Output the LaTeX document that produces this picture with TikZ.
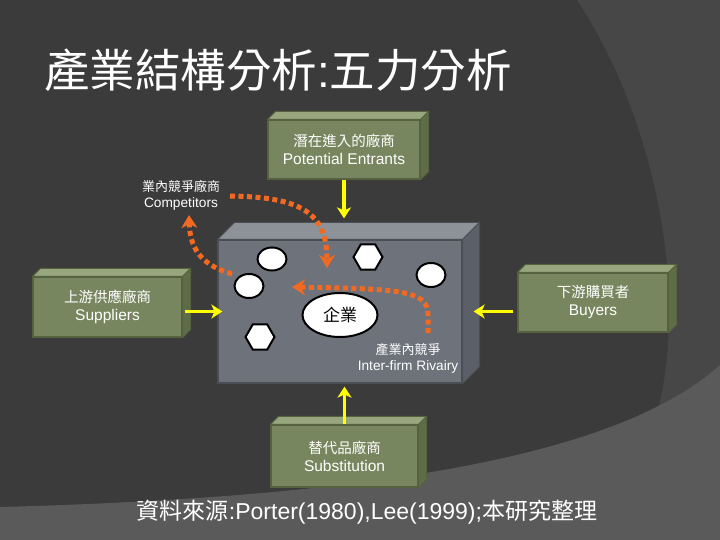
\documentclass[tikz,border=0pt]{standalone}
\usepackage{fontspec}
\setmainfont{Liberation Sans}
\newfontfamily\cjk{Noto Sans CJK TC}
\usetikzlibrary{arrows.meta,shapes.geometric}
\definecolor{bgdark}{HTML}{3B3B3B}
\definecolor{bgmid}{HTML}{474747}
\definecolor{bgband}{HTML}{5A5A5A}
\definecolor{gfront}{HTML}{77865E}
\definecolor{gtop}{HTML}{98A67E}
\definecolor{gside}{HTML}{5E6C48}
\definecolor{gline}{HTML}{56623F}
\definecolor{cfront}{HTML}{6D727B}
\definecolor{ctop}{HTML}{8D9299}
\definecolor{cside}{HTML}{5B6068}
\definecolor{cline}{HTML}{4A4E55}
\definecolor{orng}{HTML}{F26A21}
\definecolor{ylw}{HTML}{FFFF00}
\newcommand\myfaces[5]{%
  \filldraw[fill=#4,draw=#2,line width=1pt,line join=round]
    (#1.north west) -- ++(#3,-#3) -- ([shift={(#3pt,#3pt)}]#1.north east) -- (#1.north east) -- cycle;
  \filldraw[fill=#5,draw=#2,line width=1pt,line join=round]
    (#1.north east) -- ++(#3,-#3) -- ([shift={(#3pt,#3pt)}]#1.south east) -- (#1.south east) -- cycle;}
\begin{document}
\begin{tikzpicture}[x=1pt,y=-1pt,
  gbox/.style={draw=gline,fill=gfront,line width=1.2pt,inner sep=0pt,text=white,align=center,
    font=\fontsize{15.5}{18}\selectfont},
  smalllab/.style={text=white,align=center,font=\fontsize{13.7}{16}\selectfont},
  whiteoval/.style={ellipse,draw=black,fill=white,line width=2pt,inner sep=0pt},
  whitehex/.style={regular polygon,regular polygon sides=6,draw=black,fill=white,line width=2pt,inner sep=0pt,minimum size=29pt},
  yarrow/.style={draw=ylw,line width=3.5pt,-{Stealth[length=11pt,width=14pt,inset=3pt]}},
  oarrow/.style={draw=orng,line width=5pt,dash pattern=on 5pt off 3.5pt,-{Stealth[length=13pt,width=16pt,inset=4pt]}}
]
\useasboundingbox (0,0) rectangle (720,540);
% background
\fill[bgdark] (0,0) rectangle (720,540);
\fill[bgmid] (577,0) .. controls (650,110) and (690,280) .. (658,410) -- (720,410) -- (720,0) -- cycle;
\fill[bgband] (0,507) .. controls (380,497) and (620,455) .. (720,365) -- (720,540) -- (0,540) -- cycle;

% title
\node[anchor=west,text=white,inner sep=0pt,font=\fontsize{45.5}{50}\selectfont] (title) at (44,70)
  {{\cjk 產業結構分析}:{\cjk 五力分析}};

% center box
\node[draw=cline,fill=cfront,line width=1.2pt,minimum width=244pt,minimum height=143pt,inner sep=0pt] (cb) at (340,311.5) {};
\myfaces{cb}{cline}{17}{ctop}{cside}

% green boxes
\node[gbox,minimum width=152pt,minimum height=59pt] (pe) at (344,149.5)
  {{\cjk\fontsize{14.5}{18}\selectfont 潛在進入的廠商}\\Potential Entrants};
\myfaces{pe}{gline}{8}{gtop}{gside}
\node[gbox,minimum width=149pt,minimum height=60pt] (sp) at (107.5,307)
  {{\cjk\fontsize{14.5}{18}\selectfont 上游供應廠商}\\Suppliers};
\myfaces{sp}{gline}{8}{gtop}{gside}
\node[gbox,minimum width=150pt,minimum height=59pt] (by) at (593,302.5)
  {{\cjk\fontsize{14.5}{18}\selectfont 下游購買者}\\Buyers};
\myfaces{by}{gline}{8}{gtop}{gside}
\node[gbox,minimum width=147pt,minimum height=62pt] (sb) at (344.5,456)
  {{\cjk\fontsize{14.5}{18}\selectfont 替代品廠商}\\Substitution};
\myfaces{sb}{gline}{8}{gtop}{gside}

% firms inside
\node[whiteoval,minimum width=29pt,minimum height=23pt] (o1) at (272,259) {};
\node[whiteoval,minimum width=29pt,minimum height=24pt] (o2) at (249,286) {};
\node[whiteoval,minimum width=29pt,minimum height=24pt] (o3) at (431,275) {};
\node[whitehex] (h1) at (368,257) {};
\node[whitehex] (h2) at (260,337) {};
\node[whiteoval,minimum width=75pt,minimum height=44pt,font=\cjk\fontsize{17}{20}\selectfont] (firm) at (340,315) {企業};

% labels
\node[smalllab] (comp) at (181,195) {{\cjk\fontsize{13}{16}\selectfont 業內競爭廠商}\\Competitors};
\node[smalllab] (riv) at (408,358) {{\cjk\fontsize{13}{16}\selectfont 產業內競爭}\\Inter-firm Rivairy};

% yellow arrows
\draw[yarrow] (pe.south) -- ([yshift=21pt]cb.north -| pe.south);
\draw[yarrow] (sb.north) -- ([yshift=-3pt]cb.south -| sb.north);
\draw[yarrow] ([xshift=2pt]sp.east |- cb.west) -- ([xshift=5pt]cb.west);
\draw[yarrow] ([xshift=-4pt]by.west |- cb.east) -- ([xshift=11pt]cb.east);

% orange dotted arrows
\coordinate (a1s) at (230,196);
\coordinate (a1e) at (327,268);
\coordinate (a2s) at (428,333);
\coordinate (a2m) at (428,315);
\coordinate (a2e) at (292,287);
\coordinate (a3s) at (232,274);
\coordinate (a3e) at (189,215);
\draw[oarrow] (a1s) .. controls (300,197) and (327,212) .. (a1e);
\draw[oarrow] (a2s) -- (a2m) .. controls (428,290) and (400,289) .. (a2e);
\draw[oarrow] (a3s) .. controls (205,266) and (190,252) .. (a3e);

% source
\node[text=white,inner sep=0pt,font=\fontsize{23}{26}\selectfont] (src) at (367,512)
  {{\cjk 資料來源}:Porter(1980),Lee(1999);{\cjk 本研究整理}};
\end{tikzpicture}
\end{document}
